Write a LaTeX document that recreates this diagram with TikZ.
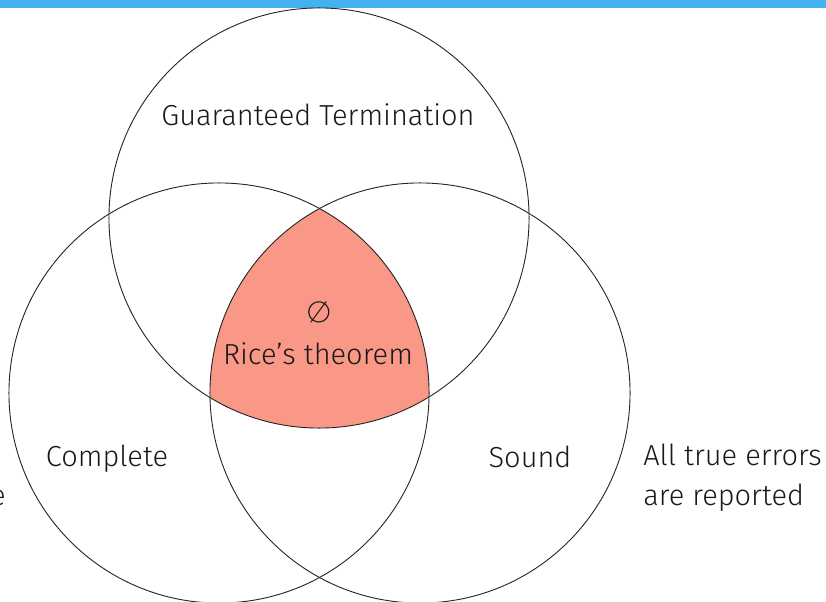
\documentclass[tikz,border=0pt]{standalone}
\usepackage{fontspec}
\setmainfont{Fira Sans Light}
\definecolor{barblue}{RGB}{66,179,240}
\definecolor{ricered}{RGB}{249,152,135}
\tikzset{
  ring/.style={draw=black!85,line width=0.65pt},
  lbl/.style={anchor=base,inner sep=0pt,font=\fontsize{20.6}{28}\selectfont,text=black!90}
}
\begin{document}
\begin{tikzpicture}[x=0.025cm,y=-0.025cm]
\useasboundingbox (0,0) rectangle (826,602);
\fill[barblue] (0,0) rectangle (826,8);

\coordinate (term) at (319,218);
\coordinate (compl) at (219,393);
\coordinate (sound) at (420,393);

% all three at once
\begin{scope}
\clip (term) circle[radius=5.25cm];
\clip (compl) circle[radius=5.25cm];
\fill[ricered] (sound) circle[radius=5.25cm];
\end{scope}

\path[ring] (term) circle[radius=5.25cm];
\path[ring] (compl) circle[radius=5.25cm];
\path[ring] (sound) circle[radius=5.25cm];

\node[lbl] (termlbl) at (318,126) {Guaranteed Termination};
\node[lbl] (empty) at (319,322) {∅};
\node[lbl] (rice) at (318,364) {Rice’s theorem};
\node[lbl] (compllbl) at (107,466) {Complete};
\node[lbl] (soundlbl) at (530,467) {Sound};
\node[lbl,anchor=base west,align=left] (errs) at (643,505) {All true errors\\are reported};
\node[lbl,anchor=base east] (cut) at (6,505) {e};
\end{tikzpicture}
\end{document}
